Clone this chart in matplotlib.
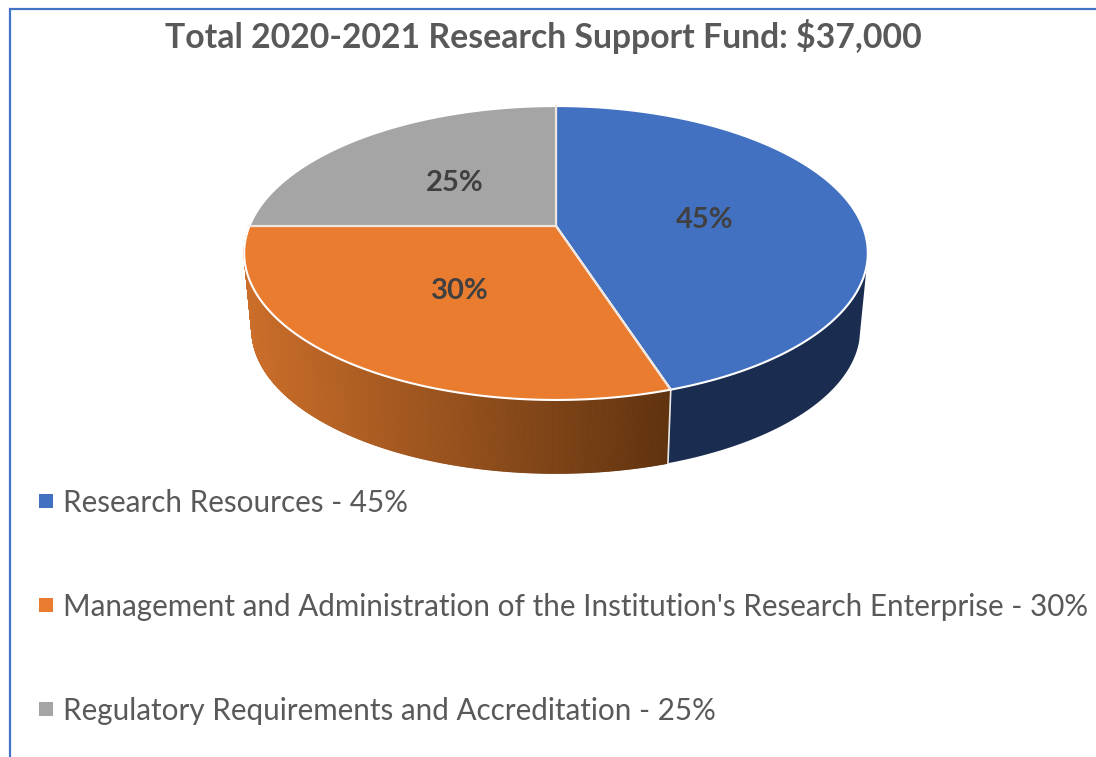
# -*- coding: utf-8 -*-
import numpy as np
import matplotlib
matplotlib.use('Agg')
import matplotlib.pyplot as plt
from matplotlib.collections import PolyCollection
from matplotlib.colors import to_rgb

title = 'Total 2020-2021 Research Support Fund: $37,000'
categories = ['Research Resources', "Management and Administration of the Institution's Research Enterprise",
              'Regulatory Requirements and Accreditation']
shares = [45, 30, 25]
colors = ['#4371C2', '#EA7C30', '#A5A5A5']
label_pos = [(705, 220), (460, 291), (455, 183)]
legend_y = [503, 607, 711]

plt.rcParams['font.family'] = ['Lato', 'DejaVu Sans']

fig = plt.figure(figsize=(10.96, 7.57), dpi=100)
ax = fig.add_axes([0, 0, 1, 1])
ax.set_xlim(0, 1096)
ax.set_ylim(757, 0)
ax.axis('off')

# rim of the pie, circle seen in perspective (theta clockwise from the top)
K = 0.1837


def top_rim(th):
    x, y = np.sin(th), np.cos(th)
    d = 1 + K * y
    return 556 + 306.5 * x / d, 226 - 142 * y / d


def low_rim(th):
    x, y = np.sin(th), np.cos(th)
    d = 1 + K * y
    return 556 + 299 * x / d, 303 - 139 * y / d


def mix(c1, c2, t):
    return tuple(np.array(to_rgb(c1)) * (1 - t) + np.array(to_rgb(c2)) * t)


edges = np.cumsum([0] + shares) / sum(shares) * 2 * np.pi

# blue side wall, one flat shape, starts where the wall becomes visible
th = np.linspace(np.radians(105), edges[1], 300)
xt, yt = top_rim(th)
xb, yb = low_rim(th)
ax.fill(np.r_[xt, xb[::-1]], np.r_[yt, yb[::-1]], facecolor='#1A2D50', edgecolor='none')

# orange side wall, small strips so it gets its gradient
th = np.linspace(edges[1], edges[2], 400)
xt, yt = top_rim(th)
xb, yb = low_rim(th)
polys = []
cols = []
for i in range(len(th) - 1):
    polys.append([(xt[i], yt[i]), (xt[i + 1], yt[i + 1]), (xb[i + 1], yb[i + 1]), (xb[i], yb[i])])
    t = np.clip((xt[i] - 245) / (670 - 245), 0, 1)
    cols.append(mix('#CB6E2A', '#60330F', t))
ax.add_collection(PolyCollection(polys, facecolors=cols, edgecolors='face', linewidths=0.8))

# white line between the two side walls
xa, ya = top_rim(edges[1])
xc, yc = low_rim(edges[1])
ax.plot([xa, xc], [ya, yc], color='#E8E8E8', lw=1.2)

# top face
for i in range(3):
    a = np.linspace(edges[i], edges[i + 1], 300)
    xs, ys = top_rim(a)
    ax.fill(np.r_[556, xs], np.r_[226, ys], facecolor=colors[i], edgecolor='white', lw=1.5, joinstyle='round',
            zorder=3)
    ax.plot([556, xs[0]], [226, ys[0]], color='#F0E6DE', lw=1.5, zorder=4)

for i in range(3):
    ax.text(label_pos[i][0], label_pos[i][1], '%d%%' % shares[i], color='#404040', fontsize=21,
            fontweight='bold', ha='center', va='center', zorder=5)

ax.text(543, 37, title, color='#595959', fontsize=24.3, fontweight='bold', ha='center', va='center')

# legend
for i in range(3):
    ax.scatter([46], [legend_y[i] - 2], marker='s', s=95, color=colors[i], linewidths=0)
    ax.text(63, legend_y[i], '%s - %d%%' % (categories[i], shares[i]), color='#595959', fontsize=21.33,
            ha='left', va='center')

# chart border, cut by the picture on the right and below
ax.plot([1096, 10, 10], [9, 9, 757], color='#4472C4', lw=1.6, solid_joinstyle='miter')

fig.savefig('out.png', dpi=100, facecolor='white')
